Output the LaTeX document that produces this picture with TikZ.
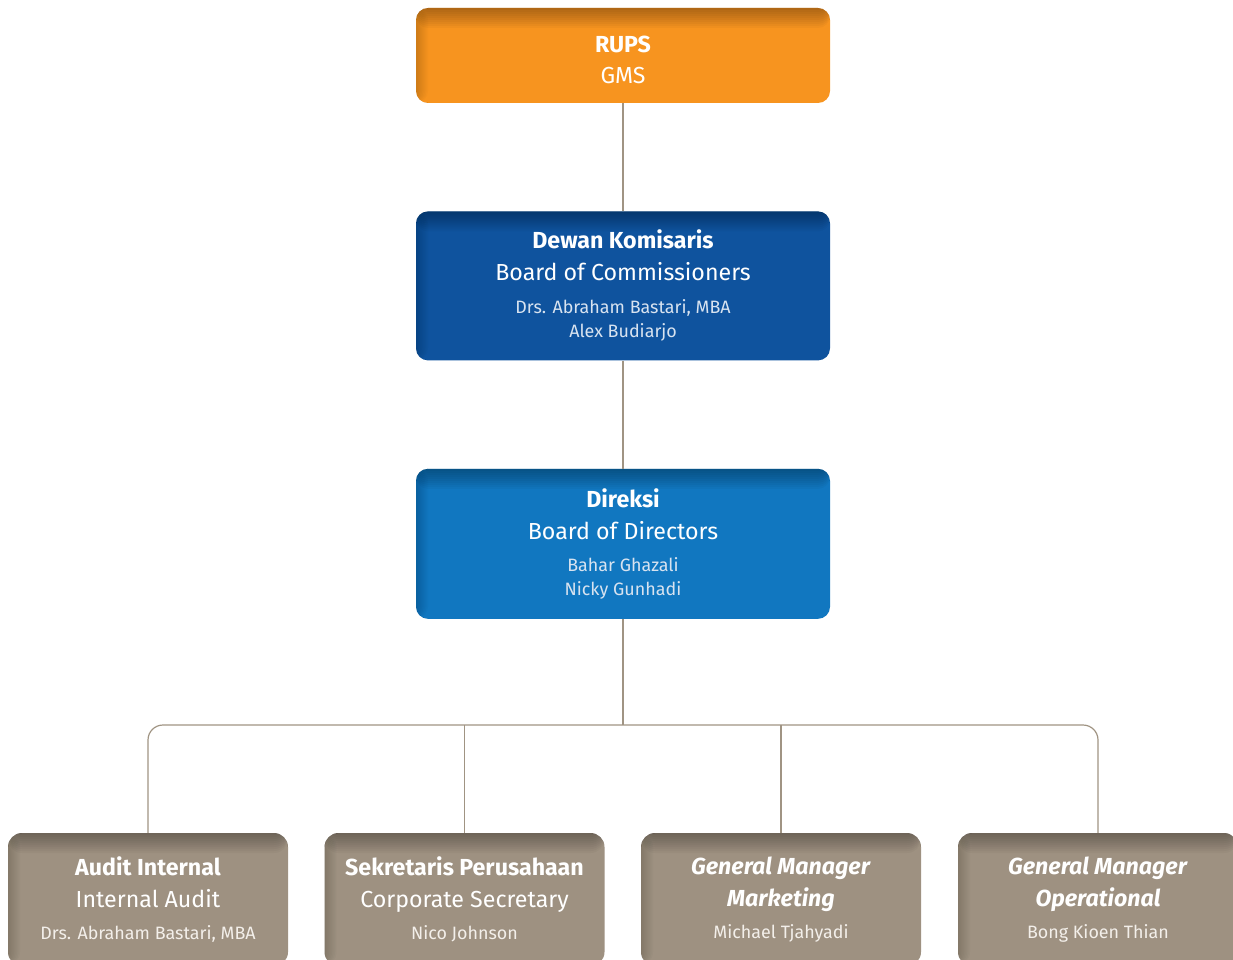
\documentclass[tikz,border=0pt]{standalone}
\usepackage{fontspec}
\setmainfont{Fira Sans}
\usepackage{xcolor}
\usetikzlibrary{positioning}

\definecolor{rupsorange}{HTML}{F7941F}
\definecolor{dekomblue}{HTML}{0F539E}
\definecolor{direksiblue}{HTML}{1177C0}
\definecolor{unitbrown}{HTML}{9E9181}
\definecolor{linkgray}{HTML}{A09483}
\definecolor{namelight}{HTML}{D8E3F0}
\definecolor{namewarm}{HTML}{F3EFEA}

\newcommand{\namefont}{\fontsize{17.9}{24}\selectfont}

\begin{document}
\begin{tikzpicture}[x=1pt, y=1pt,
    node distance=108pt,
    inshadow/.style={fill=#1, path picture={
        \foreach \k in {1,...,8}
          \fill[black, opacity=0.018] (path picture bounding box.north west)
            rectangle ([xshift={1.5pt*\k}]path picture bounding box.south west);
        \foreach \k in {1,...,10}
          \fill[black, opacity=0.03] (path picture bounding box.north west)
            rectangle ([yshift={-2pt*\k}]path picture bounding box.north east);}},
    topbox/.style={rounded corners=12pt, align=center, text=white,
                   minimum width=414pt, font=\fontsize{23.2}{32}\selectfont},
    unitbox/.style={rounded corners=14pt, align=center, text=white,
                    minimum width=280pt, minimum height=133pt,
                    inshadow=unitbrown, font=\fontsize{23.2}{32}\selectfont},
    link/.style={draw=linkgray, line width=1.2pt}
  ]
  \useasboundingbox (0,0) rectangle (1233,-960);
  \clip (0,0) rectangle (1233,-960);

  \node[topbox, minimum height=95pt, inshadow=rupsorange]
    (rups) at (623,-55.5) {\rule{0pt}{26pt}\textbf{RUPS}\\[-1pt]GMS};
  \node[topbox, minimum height=149pt, inshadow=dekomblue,
        below=of rups] (dekom)
    {\textbf{Dewan Komisaris}\\Board of Commissioners\\[1pt]
     {\namefont\color{namelight}Drs. Abraham Bastari, MBA}\\[-8pt]
     {\namefont\color{namelight}Alex Budiarjo}};
  \node[topbox, minimum height=150pt, inshadow=direksiblue,
        below=of dekom] (direksi)
    {\textbf{Direksi}\\Board of Directors\\
     {\namefont\color{namelight}Bahar Ghazali}\\[-8pt]
     {\namefont\color{namelight}Nicky Gunhadi}};

  \node[unitbox] (audit) at (148,-899.5)
    {\textbf{Audit Internal}\\Internal Audit\\
     {\namefont\color{namewarm}Drs. Abraham Bastari, MBA}};
  \node[unitbox] (sekper) at (464.5,-899.5)
    {\textbf{Sekretaris Perusahaan}\\Corporate Secretary\\
     {\namefont\color{namewarm}Nico Johnson}};
  \node[unitbox] (gmmkt) at (781,-899.5)
    {\textbf{\itshape General Manager}\\\textbf{\itshape Marketing}\\
     {\namefont\color{namewarm}Michael Tjahyadi}};
  \node[unitbox] (gmops) at (1098,-899.5)
    {\textbf{\itshape General Manager}\\\textbf{\itshape Operational}\\
     {\namefont\color{namewarm}Bong Kioen Thian}};

  \coordinate (bus) at (623,-725);

  \draw[link] (rups) -- (dekom);
  \draw[link] (dekom) -- (direksi);
  \draw[link] (direksi) -- (bus);
  \draw[link, rounded corners=15pt] (audit.north) -- (audit.north |- bus)
    -- (gmops.north |- bus) -- (gmops.north);
  \draw[link] (sekper.north) -- (sekper.north |- bus);
  \draw[link] (gmmkt.north) -- (gmmkt.north |- bus);
\end{tikzpicture}
\end{document}
